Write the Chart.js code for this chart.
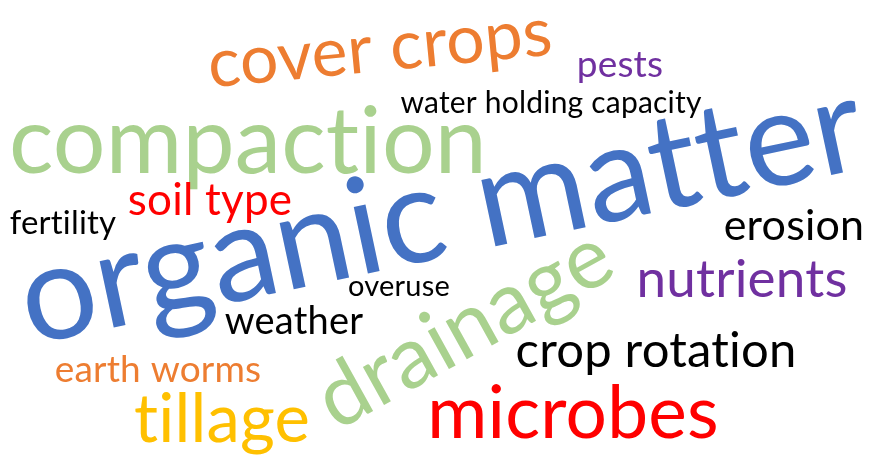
<!DOCTYPE html>
<html>
<head>
<meta charset="utf-8">
<style>
  html, body { margin: 0; padding: 0; background: #fff; }
  #cloud { display: block; }
</style>
<script src="https://cdn.jsdelivr.net/npm/chart.js@4/dist/chart.umd.min.js"></script>
</head>
<body>
<canvas id="cloud" width="869" height="455"></canvas>
<script>
// word cloud data: each word sits at (x, y) = centre of its baseline
const words = ["organic matter", "compaction", "drainage", "cover crops", "microbes",
    "tillage", "nutrients", "crop rotation", "soil type", "erosion", "weather",
    "pests", "earth worms", "fertility", "water holding capacity", "overuse"];
const weights = [144, 100, 92, 73, 78, 72, 57, 53, 47, 46, 41, 40, 40, 36, 32, 31];
const posX = [450, 248, 478, 382, 573, 222, 742, 656, 210, 794, 294, 620, 158, 63, 551, 399];
const posY = [256, 173, 353, 71, 438, 442, 297, 367, 215, 240, 334, 77, 382, 234, 113, 296];
const angles = [-12, 0, -29, -5.5, 0, 0, 0, 0, 0, 0, 0, 0, 0, 0, 0, 0];

const blue = '#4472C4', green = '#A9D18E', orange = '#ED7D31', purple = '#7030A0',
    red = '#FF0000', gold = '#FFC000', black = '#000000';
const colors = [blue, green, green, orange, red, gold, purple, black, red, black, black,
    purple, orange, black, black, black];

const fontScale = 0.93;

const wordPlugin = {
    id: 'words',
    afterDatasetsDraw(chart) {
        const ctx = chart.ctx;
        const meta = chart.getDatasetMeta(0);
        meta.data.forEach((pt, i) => {
            ctx.save();
            ctx.translate(pt.x, pt.y);
            ctx.rotate(angles[i] * Math.PI / 180);
            ctx.font = Math.round(weights[i] * fontScale) + 'px Lato';
            // tiny spacing stops Lato's "ti" ligature
            if ('letterSpacing' in ctx) ctx.letterSpacing = '0.2px';
            ctx.fillStyle = colors[i];
            ctx.textAlign = 'center';
            ctx.textBaseline = 'alphabetic';
            ctx.fillText(words[i], 0, 0);
            ctx.restore();
        });
    }
};

const wordChart = () => {
    const option = {
        type: "scatter",
        data: {
            labels: words,
            datasets: [{
                data: posX.map((x, i) => ({ x: x, y: posY[i] })),
                pointRadius: 0,
                pointHoverRadius: 0
            }]
        },
        options: {
            responsive: false,
            animation: false,
            layout: { padding: 0 },
            plugins: { legend: { display: false }, tooltip: { enabled: false } },
            scales: {
                x: { type: 'linear', min: 0, max: 869, display: false },
                y: { type: 'linear', min: 0, max: 455, reverse: true, display: false }
            }
        },
        plugins: [wordPlugin]
    }
    const canvas = document.getElementById("cloud");
    new Chart(canvas, option)
}

document.fonts.load('40px Lato').then(wordChart, wordChart);
</script>
</body>
</html>
